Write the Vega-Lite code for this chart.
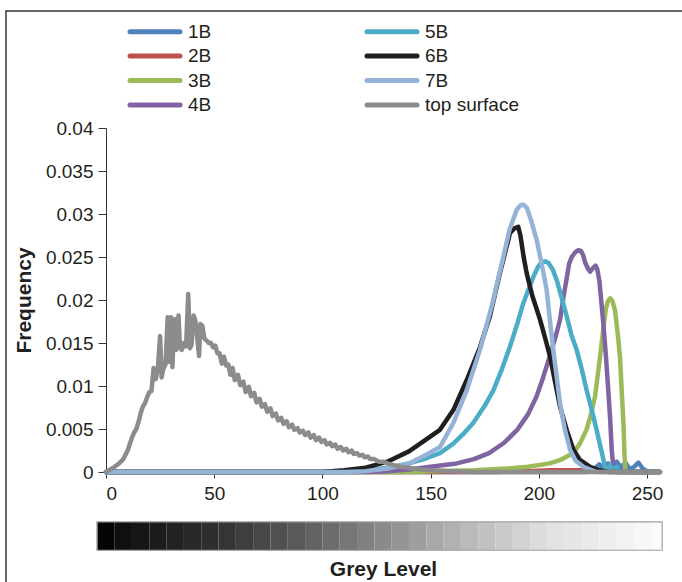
{
  "$schema": "https://vega.github.io/schema/vega-lite/v6.json",
  "width": 554,
  "height": 344,
  "autosize": "none",
  "padding": {"left": 106, "top": 128, "right": 22, "bottom": 110},
  "background": "white",
  "config": {
    "view": {"stroke": null},
    "font": "Liberation Sans",
    "axis": {"labelFont": "Liberation Sans", "labelFontSize": 19, "labelColor": "#231f20", "titleFont": "Liberation Sans", "titleFontSize": 21, "titleFontWeight": "bold", "titleColor": "#231f20", "domainColor": "#333333", "tickColor": "#333333", "grid": false},
    "axisY": {"tickSize": 8, "labelPadding": 5, "titlePadding": 11},
    "axisX": {"tickSize": 6, "labelPadding": 6, "titlePadding": 55}
  },
  "layer": [
    {
      "data": {"values": [
        {"lo": -4, "hi": 4}, {"lo": 4, "hi": 12}, {"lo": 12, "hi": 20}, {"lo": 20, "hi": 28}, {"lo": 28, "hi": 36}, {"lo": 36, "hi": 44}, {"lo": 44, "hi": 52}, {"lo": 52, "hi": 60}, {"lo": 60, "hi": 68}, {"lo": 68, "hi": 76}, {"lo": 76, "hi": 84}, {"lo": 84, "hi": 92}, {"lo": 92, "hi": 100}, {"lo": 100, "hi": 108}, {"lo": 108, "hi": 116}, {"lo": 116, "hi": 124}, {"lo": 124, "hi": 132}, {"lo": 132, "hi": 140}, {"lo": 140, "hi": 148}, {"lo": 148, "hi": 156}, {"lo": 156, "hi": 164}, {"lo": 164, "hi": 172}, {"lo": 172, "hi": 180}, {"lo": 180, "hi": 188}, {"lo": 188, "hi": 196}, {"lo": 196, "hi": 204}, {"lo": 204, "hi": 212}, {"lo": 212, "hi": 220}, {"lo": 220, "hi": 228}, {"lo": 228, "hi": 236}, {"lo": 236, "hi": 244}, {"lo": 244, "hi": 252}, {"lo": 252, "hi": 257}
      ]},
      "mark": {"type": "rect", "strokeWidth": 0},
      "encoding": {
        "x": {"field": "lo", "type": "quantitative", "title": "Grey Level", "scale": {"domain": [0, 256], "nice": false}},
        "x2": {"field": "hi"},
        "y": {"datum": -0.0058, "type": "quantitative", "title": "Frequency", "scale": {"domain": [0, 0.04]}},
        "y2": {"datum": -0.0091},
        "fill": {"field": "lo", "type": "quantitative", "scale": {"domain": [-4, 50, 100, 150, 200, 252], "range": ["#050505", "#333333", "#6c6c6c", "#ababab", "#e0e0e0", "#fbfbfb"]}, "legend": null}
      }
    },
    {
      "data": {"values": [{}]},
      "mark": {"type": "rect", "fill": null, "stroke": "#a0a0a0", "strokeWidth": 1.2},
      "encoding": {
        "x": {"datum": -4.2, "type": "quantitative", "title": "Grey Level"},
        "x2": {"datum": 257},
        "y": {"datum": -0.0058, "type": "quantitative", "title": "Frequency"},
        "y2": {"datum": -0.0091}
      }
    },
    {
      "data": {"values": [{}]},
      "mark": {"type": "rule", "color": "#666666", "strokeWidth": 2},
      "encoding": {
        "x": {"datum": -46.5, "type": "quantitative", "title": "Grey Level"},
        "x2": {"datum": 268},
        "y": {"datum": 0.0536, "type": "quantitative", "title": "Frequency"}
      }
    },
    {
      "data": {"values": [{}]},
      "mark": {"type": "rule", "color": "#333333", "strokeWidth": 1.5},
      "encoding": {
        "x": {"datum": -46.2, "type": "quantitative", "title": "Grey Level"},
        "y": {"datum": 0.0536, "type": "quantitative", "title": "Frequency"},
        "y2": {"datum": -0.0135}
      }
    },
    {
      "data": {"values": [
        {"s": "1B", "g": 0, "f": 0}, {"s": "1B", "g": 150, "f": 0}, {"s": "1B", "g": 222, "f": 0}, {"s": "1B", "g": 225, "f": 0.0002}, {"s": "1B", "g": 228, "f": 0.0009}, {"s": "1B", "g": 230, "f": 0.0004}, {"s": "1B", "g": 232, "f": 0.001}, {"s": "1B", "g": 234, "f": 0.0004}, {"s": "1B", "g": 236, "f": 0.0012}, {"s": "1B", "g": 238, "f": 0.0005}, {"s": "1B", "g": 240, "f": 0.0011}, {"s": "1B", "g": 242, "f": 0.0003}, {"s": "1B", "g": 244, "f": 0.0006}, {"s": "1B", "g": 246, "f": 0.0011}, {"s": "1B", "g": 248, "f": 0.0004}, {"s": "1B", "g": 250, "f": 0.0001}, {"s": "1B", "g": 256, "f": 0},
        {"s": "2B", "g": 0, "f": 0}, {"s": "2B", "g": 180, "f": 0}, {"s": "2B", "g": 195, "f": 0.0001}, {"s": "2B", "g": 205, "f": 0.0002}, {"s": "2B", "g": 225, "f": 0.0002}, {"s": "2B", "g": 235, "f": 0.0001}, {"s": "2B", "g": 240, "f": 0}, {"s": "2B", "g": 256, "f": 0},
        {"s": "3B", "g": 0, "f": 0}, {"s": "3B", "g": 140, "f": 0}, {"s": "3B", "g": 150, "f": 0.0001}, {"s": "3B", "g": 170, "f": 0.0002}, {"s": "3B", "g": 185, "f": 0.0004}, {"s": "3B", "g": 195, "f": 0.0006}, {"s": "3B", "g": 205, "f": 0.001}, {"s": "3B", "g": 210, "f": 0.0014}, {"s": "3B", "g": 216, "f": 0.0022}, {"s": "3B", "g": 219, "f": 0.0033}, {"s": "3B", "g": 222, "f": 0.0049}, {"s": "3B", "g": 224, "f": 0.0066}, {"s": "3B", "g": 226, "f": 0.0088}, {"s": "3B", "g": 228.3, "f": 0.0134}, {"s": "3B", "g": 230, "f": 0.017}, {"s": "3B", "g": 231, "f": 0.019}, {"s": "3B", "g": 232, "f": 0.0199}, {"s": "3B", "g": 233, "f": 0.0202}, {"s": "3B", "g": 234, "f": 0.0199}, {"s": "3B", "g": 235.2, "f": 0.0188}, {"s": "3B", "g": 236.5, "f": 0.016}, {"s": "3B", "g": 237.5, "f": 0.0134}, {"s": "3B", "g": 238.3, "f": 0.0095}, {"s": "3B", "g": 239.1, "f": 0.0057}, {"s": "3B", "g": 239.6, "f": 0.002}, {"s": "3B", "g": 240, "f": 0.0003}, {"s": "3B", "g": 241, "f": 0}, {"s": "3B", "g": 256, "f": 0},
        {"s": "4B", "g": 0, "f": 0}, {"s": "4B", "g": 120, "f": 0}, {"s": "4B", "g": 130, "f": 0.0001}, {"s": "4B", "g": 140, "f": 0.0003}, {"s": "4B", "g": 150, "f": 0.0006}, {"s": "4B", "g": 162, "f": 0.001}, {"s": "4B", "g": 170, "f": 0.0015}, {"s": "4B", "g": 177, "f": 0.0022}, {"s": "4B", "g": 184, "f": 0.0034}, {"s": "4B", "g": 190, "f": 0.0049}, {"s": "4B", "g": 195, "f": 0.0067}, {"s": "4B", "g": 199, "f": 0.0088}, {"s": "4B", "g": 202, "f": 0.011}, {"s": "4B", "g": 205, "f": 0.0134}, {"s": "4B", "g": 207.5, "f": 0.0155}, {"s": "4B", "g": 209.8, "f": 0.0177}, {"s": "4B", "g": 211.5, "f": 0.0205}, {"s": "4B", "g": 213, "f": 0.0227}, {"s": "4B", "g": 214, "f": 0.0242}, {"s": "4B", "g": 215.2, "f": 0.025}, {"s": "4B", "g": 217, "f": 0.0256}, {"s": "4B", "g": 218.3, "f": 0.0258}, {"s": "4B", "g": 219.5, "f": 0.0257}, {"s": "4B", "g": 220.5, "f": 0.0252}, {"s": "4B", "g": 221.5, "f": 0.0243}, {"s": "4B", "g": 222.8, "f": 0.0236}, {"s": "4B", "g": 223.7, "f": 0.0233}, {"s": "4B", "g": 225, "f": 0.0237}, {"s": "4B", "g": 226.2, "f": 0.024}, {"s": "4B", "g": 227, "f": 0.0236}, {"s": "4B", "g": 228, "f": 0.0222}, {"s": "4B", "g": 229, "f": 0.0195}, {"s": "4B", "g": 229.8, "f": 0.0173}, {"s": "4B", "g": 231, "f": 0.0135}, {"s": "4B", "g": 232.1, "f": 0.0095}, {"s": "4B", "g": 233, "f": 0.006}, {"s": "4B", "g": 233.7, "f": 0.0026}, {"s": "4B", "g": 234.5, "f": 0.0003}, {"s": "4B", "g": 235, "f": 0}, {"s": "4B", "g": 256, "f": 0},
        {"s": "5B", "g": 0, "f": 0}, {"s": "5B", "g": 110, "f": 0}, {"s": "5B", "g": 120, "f": 0.0002}, {"s": "5B", "g": 130, "f": 0.0005}, {"s": "5B", "g": 140, "f": 0.001}, {"s": "5B", "g": 148, "f": 0.0016}, {"s": "5B", "g": 154.3, "f": 0.0022}, {"s": "5B", "g": 160.5, "f": 0.0033}, {"s": "5B", "g": 165, "f": 0.0044}, {"s": "5B", "g": 169.7, "f": 0.0057}, {"s": "5B", "g": 175, "f": 0.0077}, {"s": "5B", "g": 179, "f": 0.0095}, {"s": "5B", "g": 183, "f": 0.012}, {"s": "5B", "g": 186.7, "f": 0.0146}, {"s": "5B", "g": 190, "f": 0.0172}, {"s": "5B", "g": 192.8, "f": 0.0196}, {"s": "5B", "g": 195.5, "f": 0.0214}, {"s": "5B", "g": 197.5, "f": 0.0227}, {"s": "5B", "g": 199.5, "f": 0.0238}, {"s": "5B", "g": 201, "f": 0.0243}, {"s": "5B", "g": 202.9, "f": 0.0245}, {"s": "5B", "g": 204.5, "f": 0.0243}, {"s": "5B", "g": 206.5, "f": 0.0235}, {"s": "5B", "g": 208.3, "f": 0.0223}, {"s": "5B", "g": 210.5, "f": 0.0203}, {"s": "5B", "g": 212.9, "f": 0.0181}, {"s": "5B", "g": 215, "f": 0.016}, {"s": "5B", "g": 217.5, "f": 0.0142}, {"s": "5B", "g": 220, "f": 0.0118}, {"s": "5B", "g": 222.1, "f": 0.0095}, {"s": "5B", "g": 224.5, "f": 0.0072}, {"s": "5B", "g": 226.7, "f": 0.0049}, {"s": "5B", "g": 228.8, "f": 0.0026}, {"s": "5B", "g": 230.6, "f": 0.0006}, {"s": "5B", "g": 232, "f": 0.0002}, {"s": "5B", "g": 233, "f": 0.0008}, {"s": "5B", "g": 234.5, "f": 0.0002}, {"s": "5B", "g": 236, "f": 0.0006}, {"s": "5B", "g": 237, "f": 0}, {"s": "5B", "g": 256, "f": 0},
        {"s": "6B", "g": 0, "f": 0}, {"s": "6B", "g": 100, "f": 0}, {"s": "6B", "g": 110, "f": 0.0002}, {"s": "6B", "g": 120, "f": 0.0005}, {"s": "6B", "g": 130, "f": 0.0012}, {"s": "6B", "g": 140, "f": 0.0024}, {"s": "6B", "g": 148, "f": 0.0038}, {"s": "6B", "g": 154.3, "f": 0.0049}, {"s": "6B", "g": 160.5, "f": 0.0072}, {"s": "6B", "g": 166.7, "f": 0.0107}, {"s": "6B", "g": 172.8, "f": 0.0145}, {"s": "6B", "g": 177.4, "f": 0.0181}, {"s": "6B", "g": 182, "f": 0.0231}, {"s": "6B", "g": 186.7, "f": 0.0278}, {"s": "6B", "g": 188.5, "f": 0.0283}, {"s": "6B", "g": 190.5, "f": 0.0285}, {"s": "6B", "g": 191.5, "f": 0.0275}, {"s": "6B", "g": 193, "f": 0.025}, {"s": "6B", "g": 194.4, "f": 0.0231}, {"s": "6B", "g": 197, "f": 0.0205}, {"s": "6B", "g": 200.6, "f": 0.0177}, {"s": "6B", "g": 203, "f": 0.0155}, {"s": "6B", "g": 205.2, "f": 0.0134}, {"s": "6B", "g": 207.5, "f": 0.0105}, {"s": "6B", "g": 209.8, "f": 0.0076}, {"s": "6B", "g": 213, "f": 0.0048}, {"s": "6B", "g": 216, "f": 0.0026}, {"s": "6B", "g": 219, "f": 0.0014}, {"s": "6B", "g": 223.7, "f": 0.0006}, {"s": "6B", "g": 228, "f": 0.0002}, {"s": "6B", "g": 232, "f": 0}, {"s": "6B", "g": 256, "f": 0},
        {"s": "7B", "g": 0, "f": 0}, {"s": "7B", "g": 110, "f": 0}, {"s": "7B", "g": 120, "f": 0.0001}, {"s": "7B", "g": 130, "f": 0.0004}, {"s": "7B", "g": 140, "f": 0.001}, {"s": "7B", "g": 148, "f": 0.002}, {"s": "7B", "g": 154.3, "f": 0.0029}, {"s": "7B", "g": 160.5, "f": 0.0057}, {"s": "7B", "g": 166.7, "f": 0.0095}, {"s": "7B", "g": 172.8, "f": 0.0142}, {"s": "7B", "g": 176, "f": 0.0172}, {"s": "7B", "g": 179, "f": 0.02}, {"s": "7B", "g": 181.5, "f": 0.0228}, {"s": "7B", "g": 183.6, "f": 0.025}, {"s": "7B", "g": 186.5, "f": 0.0282}, {"s": "7B", "g": 189.8, "f": 0.0305}, {"s": "7B", "g": 191.5, "f": 0.031}, {"s": "7B", "g": 192.8, "f": 0.0311}, {"s": "7B", "g": 194.5, "f": 0.0307}, {"s": "7B", "g": 196.5, "f": 0.0292}, {"s": "7B", "g": 199, "f": 0.027}, {"s": "7B", "g": 201.5, "f": 0.024}, {"s": "7B", "g": 203.6, "f": 0.0212}, {"s": "7B", "g": 205.2, "f": 0.0175}, {"s": "7B", "g": 206.7, "f": 0.0142}, {"s": "7B", "g": 208.3, "f": 0.011}, {"s": "7B", "g": 209.8, "f": 0.008}, {"s": "7B", "g": 212, "f": 0.005}, {"s": "7B", "g": 214.4, "f": 0.0026}, {"s": "7B", "g": 217, "f": 0.0013}, {"s": "7B", "g": 220.6, "f": 0.0006}, {"s": "7B", "g": 226.7, "f": 0}, {"s": "7B", "g": 256, "f": 0},
        {"s": "top surface", "g": 0, "f": 0}, {"s": "top surface", "g": 2, "f": 0.0003}, {"s": "top surface", "g": 4, "f": 0.0006}, {"s": "top surface", "g": 6, "f": 0.001}, {"s": "top surface", "g": 8, "f": 0.0015}, {"s": "top surface", "g": 10, "f": 0.0025}, {"s": "top surface", "g": 12, "f": 0.004}, {"s": "top surface", "g": 13, "f": 0.0046}, {"s": "top surface", "g": 14, "f": 0.005}, {"s": "top surface", "g": 15, "f": 0.0058}, {"s": "top surface", "g": 16, "f": 0.0068}, {"s": "top surface", "g": 17, "f": 0.0076}, {"s": "top surface", "g": 18, "f": 0.008}, {"s": "top surface", "g": 19, "f": 0.0087}, {"s": "top surface", "g": 20, "f": 0.0093}, {"s": "top surface", "g": 21, "f": 0.0094}, {"s": "top surface", "g": 22, "f": 0.0121}, {"s": "top surface", "g": 23, "f": 0.0108}, {"s": "top surface", "g": 24, "f": 0.0122}, {"s": "top surface", "g": 25, "f": 0.0158}, {"s": "top surface", "g": 25.7, "f": 0.011}, {"s": "top surface", "g": 26.5, "f": 0.012}, {"s": "top surface", "g": 27.5, "f": 0.0125}, {"s": "top surface", "g": 28.5, "f": 0.018}, {"s": "top surface", "g": 29.3, "f": 0.0128}, {"s": "top surface", "g": 30, "f": 0.018}, {"s": "top surface", "g": 30.7, "f": 0.0122}, {"s": "top surface", "g": 31.5, "f": 0.0178}, {"s": "top surface", "g": 32.5, "f": 0.0142}, {"s": "top surface", "g": 33.5, "f": 0.0182}, {"s": "top surface", "g": 34.2, "f": 0.0145}, {"s": "top surface", "g": 35, "f": 0.0142}, {"s": "top surface", "g": 36, "f": 0.015}, {"s": "top surface", "g": 37, "f": 0.0146}, {"s": "top surface", "g": 38, "f": 0.0207}, {"s": "top surface", "g": 38.8, "f": 0.0144}, {"s": "top surface", "g": 39.5, "f": 0.0148}, {"s": "top surface", "g": 40.5, "f": 0.0182}, {"s": "top surface", "g": 41.3, "f": 0.0176}, {"s": "top surface", "g": 42, "f": 0.016}, {"s": "top surface", "g": 43, "f": 0.0135}, {"s": "top surface", "g": 43.6, "f": 0.0172}, {"s": "top surface", "g": 44.5, "f": 0.017}, {"s": "top surface", "g": 45.5, "f": 0.0155}, {"s": "top surface", "g": 46.5, "f": 0.0153}, {"s": "top surface", "g": 47.5, "f": 0.015}, {"s": "top surface", "g": 48.5, "f": 0.015}, {"s": "top surface", "g": 49.5, "f": 0.0145}, {"s": "top surface", "g": 50.5, "f": 0.0147}, {"s": "top surface", "g": 51.5, "f": 0.0138}, {"s": "top surface", "g": 52.5, "f": 0.0138}, {"s": "top surface", "g": 53.5, "f": 0.0126}, {"s": "top surface", "g": 54.5, "f": 0.0134}, {"s": "top surface", "g": 55.5, "f": 0.0124}, {"s": "top surface", "g": 56.5, "f": 0.0125}, {"s": "top surface", "g": 57.5, "f": 0.0113}, {"s": "top surface", "g": 58.5, "f": 0.0121}, {"s": "top surface", "g": 59.5, "f": 0.0107}, {"s": "top surface", "g": 61, "f": 0.0113}, {"s": "top surface", "g": 62, "f": 0.0101}, {"s": "top surface", "g": 63.5, "f": 0.0105}, {"s": "top surface", "g": 64.5, "f": 0.0093}, {"s": "top surface", "g": 66, "f": 0.0099}, {"s": "top surface", "g": 67, "f": 0.0088}, {"s": "top surface", "g": 68.5, "f": 0.0092}, {"s": "top surface", "g": 69.5, "f": 0.0081}, {"s": "top surface", "g": 71, "f": 0.0085}, {"s": "top surface", "g": 72, "f": 0.0076}, {"s": "top surface", "g": 73.5, "f": 0.0079}, {"s": "top surface", "g": 74.5, "f": 0.007}, {"s": "top surface", "g": 76, "f": 0.0074}, {"s": "top surface", "g": 77, "f": 0.0065}, {"s": "top surface", "g": 78.5, "f": 0.0068}, {"s": "top surface", "g": 79.5, "f": 0.006}, {"s": "top surface", "g": 81, "f": 0.0063}, {"s": "top surface", "g": 82, "f": 0.0056}, {"s": "top surface", "g": 83.5, "f": 0.0059}, {"s": "top surface", "g": 84.5, "f": 0.0052}, {"s": "top surface", "g": 86, "f": 0.0055}, {"s": "top surface", "g": 87, "f": 0.0049}, {"s": "top surface", "g": 88.5, "f": 0.0051}, {"s": "top surface", "g": 89.5, "f": 0.0046}, {"s": "top surface", "g": 91, "f": 0.0048}, {"s": "top surface", "g": 92, "f": 0.0043}, {"s": "top surface", "g": 93.5, "f": 0.0046}, {"s": "top surface", "g": 94.5, "f": 0.004}, {"s": "top surface", "g": 96, "f": 0.0043}, {"s": "top surface", "g": 97, "f": 0.0037}, {"s": "top surface", "g": 98.5, "f": 0.004}, {"s": "top surface", "g": 99.5, "f": 0.0035}, {"s": "top surface", "g": 101, "f": 0.0037}, {"s": "top surface", "g": 102, "f": 0.0032}, {"s": "top surface", "g": 103.5, "f": 0.0034}, {"s": "top surface", "g": 104.5, "f": 0.003}, {"s": "top surface", "g": 106, "f": 0.0032}, {"s": "top surface", "g": 107, "f": 0.0027}, {"s": "top surface", "g": 108.5, "f": 0.0029}, {"s": "top surface", "g": 109.5, "f": 0.0025}, {"s": "top surface", "g": 111, "f": 0.0027}, {"s": "top surface", "g": 112, "f": 0.0023}, {"s": "top surface", "g": 113.5, "f": 0.0025}, {"s": "top surface", "g": 114.5, "f": 0.0021}, {"s": "top surface", "g": 116, "f": 0.0022}, {"s": "top surface", "g": 117, "f": 0.0019}, {"s": "top surface", "g": 118.5, "f": 0.002}, {"s": "top surface", "g": 119.5, "f": 0.0017}, {"s": "top surface", "g": 121, "f": 0.0018}, {"s": "top surface", "g": 122, "f": 0.0015}, {"s": "top surface", "g": 124, "f": 0.0015}, {"s": "top surface", "g": 126, "f": 0.0012}, {"s": "top surface", "g": 128, "f": 0.0012}, {"s": "top surface", "g": 130, "f": 0.001}, {"s": "top surface", "g": 133, "f": 0.0008}, {"s": "top surface", "g": 136, "f": 0.0006}, {"s": "top surface", "g": 140, "f": 0.0005}, {"s": "top surface", "g": 145, "f": 0.0003}, {"s": "top surface", "g": 150, "f": 0.0002}, {"s": "top surface", "g": 160, "f": 0.0001}, {"s": "top surface", "g": 170, "f": 0}, {"s": "top surface", "g": 256, "f": 0}
      ]},
      "mark": {"type": "line", "strokeWidth": 4.5, "strokeCap": "round", "strokeJoin": "round"},
      "encoding": {
        "x": {"field": "g", "type": "quantitative", "title": "Grey Level", "scale": {"domain": [0, 256], "nice": false}, "axis": {"values": [0, 50, 100, 150, 200, 250], "title": "Grey Level"}},
        "y": {"field": "f", "type": "quantitative", "title": "Frequency", "scale": {"domain": [0, 0.04]}, "axis": {"values": [0, 0.005, 0.01, 0.015, 0.02, 0.025, 0.03, 0.035, 0.04], "format": "~f", "title": "Frequency"}},
        "color": {
          "field": "s", "type": "nominal",
          "scale": {"domain": ["1B", "2B", "3B", "4B", "5B", "6B", "7B", "top surface"], "range": ["#4f81bd", "#c0504d", "#9bbb59", "#8064a2", "#4bacc6", "#1f1f1f", "#95b3d7", "#8c8c8c"]},
          "legend": {"orient": "none", "legendX": 39.5, "legendY": -106, "columns": 2, "title": null, "padding": 0, "symbolType": "M-5,0H5", "symbolSize": 100, "symbolStrokeWidth": 5, "labelFont": "Liberation Sans", "labelFontSize": 19, "labelColor": "#231f20", "labelOffset": 23.5, "columnPadding": 145, "rowPadding": 3.5, "encode": {"symbols": {"update": {"strokeCap": {"value": "round"}}}}}
        }
      }
    }
  ]
}
